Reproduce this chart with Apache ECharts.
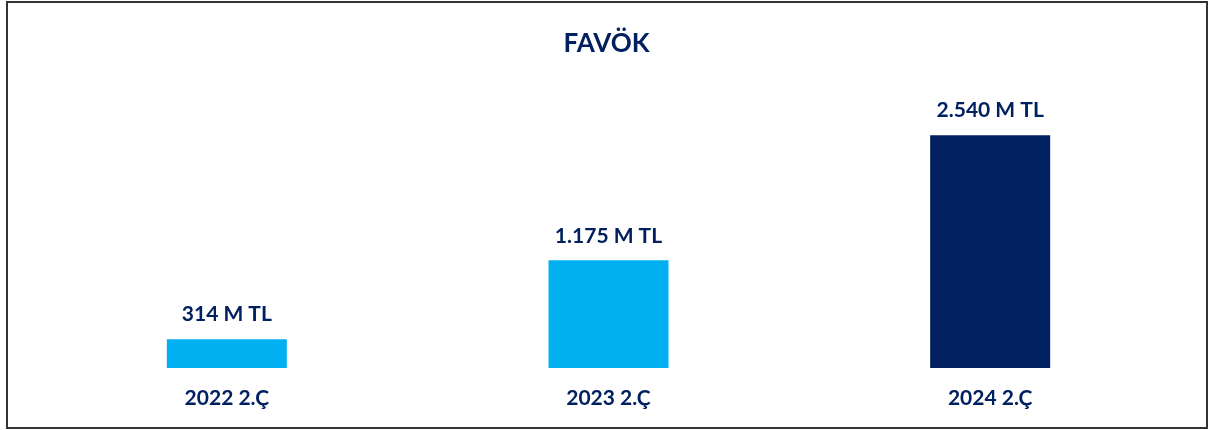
<!DOCTYPE html>
<html>
<head>
<meta charset="utf-8">
<script src="https://cdn.jsdelivr.net/npm/echarts@6/dist/echarts.min.js"></script>
<style>
  html, body { margin: 0; padding: 0; background: #fff; }
  #main { width: 1213px; height: 430px; }
</style>
</head>
<body>
<div id="main"></div>
<script>
// chart data
const categories = ['2022 2.Ç', '2023 2.Ç', '2024 2.Ç'];
const values = [314, 1175, 2540];
const valueLabels = ['314 M TL', '1.175 M TL', '2.540 M TL'];
const barColors = ['#00B0F0', '#00B0F0', '#002060'];

const navy = '#002060';
const font = 'Lato, "Liberation Sans", sans-serif';

let myChart = echarts.init(document.getElementById('main'));
let option = {
    animation: false,
    backgroundColor: '#fff',
    title: {
        text: 'FAVÖK',
        left: 'center',
        top: 26,
        textStyle: {
            color: navy,
            fontFamily: font,
            fontWeight: 'bold',
            fontSize: 26
        }
    },
    graphic: [{
        type: 'rect',
        shape: {x: 7, y: 2, width: 1200, height: 426},
        style: {fill: 'none', stroke: '#333', lineWidth: 2},
        silent: true
    }],
    grid: {
        left: 36,
        right: 32,
        top: 93,
        bottom: 62
    },
    xAxis: {
        type: 'category',
        data: categories,
        axisLine: {show: false},
        axisTick: {show: false},
        axisLabel: {
            margin: 20,
            color: navy,
            fontFamily: font,
            fontWeight: 'bold',
            fontSize: 21
        }
    },
    yAxis: {
        type: 'value',
        min: 0,
        max: 3000,
        show: false,
        splitLine: {show: false}
    },
    series: [{
        type: 'bar',
        barWidth: 120,
        data: values.map((v, i) => ({
            value: v,
            itemStyle: {color: barColors[i]}
        })),
        label: {
            show: true,
            position: 'top',
            distance: 14,
            color: navy,
            fontFamily: font,
            fontWeight: 'bold',
            fontSize: 21,
            formatter: p => valueLabels[p.dataIndex]
        }
    }]
};
myChart.setOption(option);
</script>
</body>
</html>
